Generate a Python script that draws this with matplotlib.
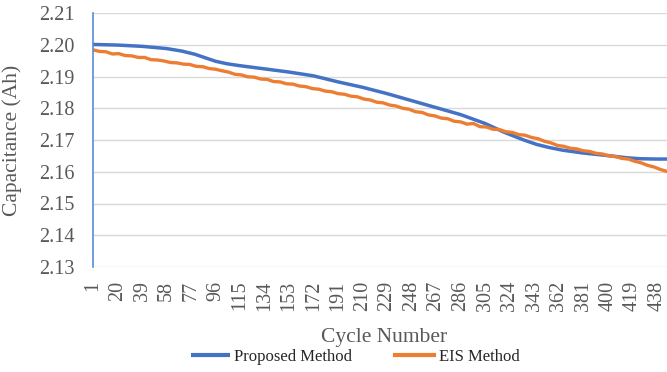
import numpy as np
import matplotlib
matplotlib.use('Agg')
import matplotlib.pyplot as plt

# Proposed method: smooth curve, read at selected cycles
proposed_cycles = [1, 20, 39, 58, 70, 80, 88, 96, 105, 115, 134, 153, 172, 191,
                   210, 229, 248, 267, 286, 305, 320, 335, 345, 355, 365, 381,
                   400, 415, 425, 438, 446]
proposed_cap = [2.2001, 2.1999, 2.1995, 2.1988, 2.1980, 2.1970, 2.1959, 2.1948,
                2.1940, 2.1934, 2.1924, 2.1914, 2.1902, 2.1883, 2.1866, 2.1846,
                2.1824, 2.1802, 2.1780, 2.1752, 2.1724, 2.1700, 2.1686, 2.1676,
                2.1668, 2.1659, 2.1651, 2.1644, 2.1641, 2.1640, 2.1640]

# EIS method: noisy curve, read every 5 cycles from 1 to 446
eis_cycles = list(range(1, 447, 5))
eis_cap = [2.1984, 2.1979, 2.1978, 2.1971, 2.1972, 2.1966, 2.1965, 2.1960,
           2.1960, 2.1953, 2.1952, 2.1949, 2.1944, 2.1943, 2.1939, 2.1938,
           2.1932, 2.1931, 2.1925, 2.1923, 2.1918, 2.1914, 2.1907, 2.1905,
           2.1899, 2.1898, 2.1892, 2.1891, 2.1884, 2.1883, 2.1877, 2.1876,
           2.1870, 2.1868, 2.1862, 2.1860, 2.1854, 2.1852, 2.1846, 2.1844,
           2.1838, 2.1836, 2.1829, 2.1826, 2.1819, 2.1817, 2.1810, 2.1807,
           2.1800, 2.1797, 2.1789, 2.1787, 2.1779, 2.1776, 2.1769, 2.1767,
           2.1759, 2.1757, 2.1750, 2.1752, 2.1742, 2.1741, 2.1734, 2.1733,
           2.1726, 2.1724, 2.1717, 2.1715, 2.1708, 2.1704, 2.1696, 2.1691,
           2.1683, 2.1680, 2.1674, 2.1672, 2.1666, 2.1664, 2.1658, 2.1656,
           2.1650, 2.1648, 2.1642, 2.1640, 2.1633, 2.1628, 2.1620, 2.1615,
           2.1607, 2.1601]

x_ticks = list(range(1, 439, 19))
y_ticks = [2.13, 2.14, 2.15, 2.16, 2.17, 2.18, 2.19, 2.20, 2.21]

text_color = '#595959'
plt.rcParams['font.family'] = ['Liberation Serif', 'DejaVu Serif']

fig = plt.figure(figsize=(6.67, 3.72), dpi=100)
ax = fig.add_axes([93 / 667, 1 - 267 / 372, 1 - 93 / 667, (267 - 13) / 372])

ax.plot(proposed_cycles, proposed_cap, color='#4472C4', lw=2.5,
        label='Proposed Method', solid_capstyle='butt')
ax.plot(eis_cycles, eis_cap, color='#ED7D31', lw=2.4, label='EIS Method')

ax.set_xlim(1, 446)
ax.set_ylim(2.13, 2.21)
ax.set_yticks(y_ticks)
ax.set_yticklabels([f'{v:.2f}' for v in y_ticks])
ax.set_xticks(x_ticks)
ax.set_xticklabels([str(v) for v in x_ticks], rotation=90)
ax.tick_params(axis='y', length=0, pad=13, labelsize=14.5, labelcolor=text_color)
ax.tick_params(axis='x', length=0, pad=10, labelsize=14.5, labelcolor=text_color)

ax.yaxis.grid(True, color='#D9D9D9', lw=1)
ax.set_axisbelow(True)
for s in ['top', 'right', 'bottom']:
    ax.spines[s].set_visible(False)
ax.spines['left'].set_color('#5B8BD8')
ax.spines['left'].set_linewidth(1.2)

ax.set_ylabel('Capacitance (Ah)', fontsize=15.5, color=text_color)
ax.yaxis.set_label_coords(-(93 - 22) / (667 - 93), 0.5)
ax.set_xlabel('Cycle Number', fontsize=15.5, color=text_color)
ax.xaxis.set_label_coords((384 - 93) / (667 - 93), -(328 - 267) / (267 - 13))

leg = fig.legend(loc='center', bbox_to_anchor=(355 / 667, 1 - 357 / 372), ncol=2,
                 frameon=False, fontsize=12, handlelength=2.35, columnspacing=2.6,
                 handletextpad=0.25)
for t in leg.get_texts():
    t.set_color('#262626')
for h in leg.legend_handles:
    h.set_linewidth(3)

fig.savefig('out.png', dpi=100)
